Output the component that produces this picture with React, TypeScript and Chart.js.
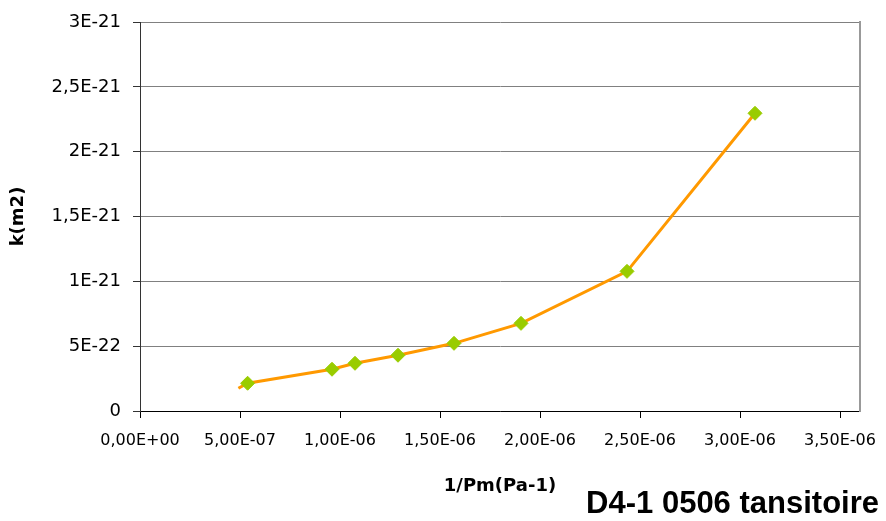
import React, { useEffect, useRef } from "react";
import { Chart, registerables } from "chart.js";

Chart.register(...registerables);

// ---- data ----
const invPressure = [4.92e-7, 5.38e-7, 9.6e-7, 1.075e-6, 1.29e-6, 1.57e-6, 1.905e-6, 2.435e-6, 3.075e-6];
const permeability = [1.75e-22, 2.14e-22, 3.22e-22, 3.68e-22, 4.3e-22, 5.22e-22, 6.76e-22, 1.077e-21, 2.296e-21];
const markerShown = [false, true, true, true, true, true, true, true, true];

const xTickValues = [0, 5e-7, 1e-6, 1.5e-6, 2e-6, 2.5e-6, 3e-6, 3.5e-6];
const xTickLabels = ["0,00E+00", "5,00E-07", "1,00E-06", "1,50E-06", "2,00E-06", "2,50E-06", "3,00E-06", "3,50E-06"];
const yTickValues = [0, 5e-22, 1e-21, 1.5e-21, 2e-21, 2.5e-21, 3e-21];
const yTickLabels = ["0", "5E-22", "1E-21", "1,5E-21", "2E-21", "2,5E-21", "3E-21"];

const xTitle = "1/Pm(Pa-1)";
const yTitle = "k(m2)";
const chartTitle = "D4-1 0506 tansitoire";

export default function App() {
  const ref = useRef<HTMLCanvasElement | null>(null);

  useEffect(() => {
    if (!ref.current) return;
    const points = invPressure.map((x, i) => ({ x, y: permeability[i] }));
    const chart = new Chart(ref.current, {
      type: "line",
      data: {
        datasets: [
          {
            data: points,
            borderColor: "#FF9900",
            borderWidth: 3,
            tension: 0,
            fill: false,
            pointStyle: "rectRot",
            pointRadius: markerShown.map((s) => (s ? 7 : 0)),
            pointBackgroundColor: "#99CC00",
            pointBorderColor: "#99CC00",
            pointBorderWidth: 1,
            xAxisID: "x",
            yAxisID: "y",
          },
        ],
      },
      options: {
        responsive: false,
        animation: false,
        layout: { padding: { left: 0, top: 22, right: 7, bottom: 0 } },
        plugins: {
          legend: { display: false },
          tooltip: { enabled: false },
          title: {
            display: true,
            text: chartTitle,
            position: "bottom",
            align: "end",
            color: "#000",
            font: { family: "'Liberation Sans', Arial, sans-serif", size: 31, weight: "bold", lineHeight: 1 },
            padding: { top: 0, bottom: 1 },
          },
        },
        scales: {
          x: {
            type: "linear",
            position: "bottom",
            min: 0,
            max: 3.6e-6,
            afterBuildTicks: (s: any) => {
              s.ticks = xTickValues.map((v) => ({ value: v }));
            },
            afterFit: (s: any) => {
              s.height = 78;
              s.paddingLeft = 0;
              s.paddingRight = 0;
            },
            ticks: {
              autoSkip: false,
              maxRotation: 0,
              padding: 13,
              color: "#000",
              font: { family: "'DejaVu Sans', sans-serif", size: 16 },
              callback: (_v: any, i: number) => xTickLabels[i],
            },
            grid: { drawOnChartArea: false, drawTicks: true, tickLength: 7, tickColor: "#000" },
            border: { display: true, color: "#000", width: 1 },
            title: {
              display: true,
              text: xTitle,
              color: "#000",
              font: { family: "'DejaVu Sans', sans-serif", size: 18, weight: "bold" },
              padding: { top: 0, bottom: -8 },
            },
          },
          y: {
            type: "linear",
            position: "left",
            min: 0,
            max: 3e-21,
            afterBuildTicks: (s: any) => {
              s.ticks = yTickValues.map((v) => ({ value: v }));
            },
            afterFit: (s: any) => {
              s.width = 140;
              s.paddingTop = 0;
              s.paddingBottom = 0;
            },
            ticks: {
              padding: 12,
              color: "#000",
              font: { family: "'DejaVu Sans', sans-serif", size: 18 },
              callback: (_v: any, i: number) => yTickLabels[i],
            },
            grid: { color: "#808080", lineWidth: 1, drawTicks: true, tickLength: 7, tickColor: "#333" },
            border: { display: true, color: "#333", width: 1 },
            title: {
              display: true,
              text: yTitle,
              color: "#000",
              font: { family: "'DejaVu Sans', sans-serif", size: 18, weight: "bold" },
              padding: { top: 8, bottom: 0 },
            },
          },
          frame: {
            type: "linear",
            position: "right",
            display: true,
            min: 0,
            max: 1,
            afterFit: (s: any) => {
              s.width = 19;
              s.paddingTop = 0;
              s.paddingBottom = 0;
            },
            ticks: { display: false },
            grid: { display: false },
            border: { display: true, color: "#999", width: 2 },
          },
        },
      },
    });
    return () => chart.destroy();
  }, []);

  return (
    <div style={{ position: "fixed", left: 0, top: 0, width: 886, height: 521, background: "#fff" }}>
      <canvas ref={ref} width={886} height={521} style={{ display: "block" }} />
    </div>
  );
}
